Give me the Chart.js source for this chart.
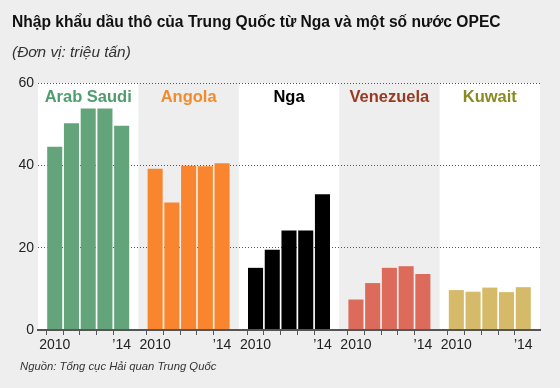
<!DOCTYPE html>
<html>
<head>
<meta charset="utf-8">
<script src="https://cdn.jsdelivr.net/npm/chart.js@4"></script>
<style>
    html, body { margin: 0; padding: 0; background: #eeeeee; }
    body { width: 560px; height: 388px; position: relative; overflow: hidden; font-family: "Liberation Sans", Arial, sans-serif; }
    #wrap { position: absolute; left: 0; top: 0; width: 560px; height: 388px; }
    .title { position: absolute; left: 12px; top: 13px; font-size: 15.6px; font-weight: bold; color: #111; white-space: nowrap; }
    .unit { position: absolute; left: 12px; top: 43px; font-size: 15.4px; font-style: italic; color: #333; white-space: nowrap; }
    .source { position: absolute; left: 20px; top: 360px; font-size: 11.3px; font-style: italic; color: #333; white-space: nowrap; }
</style>
</head>
<body>
<div id="wrap"><canvas id="chart"></canvas></div>
<div class="title">Nhập khẩu dầu thô của Trung Quốc từ Nga và một số nước OPEC</div>
<div class="unit">(Đơn vị: triệu tấn)</div>
<div class="source">Nguồn: Tổng cục Hải quan Trung Quốc</div>
<script>
// data (million tonnes)
const years = ['2010', '2011', '2012', '2013', '2014'];
const countries = ['Arab Saudi', 'Angola', 'Nga', 'Venezuela', 'Kuwait'];
const saudi = [44.5, 50.2, 53.8, 53.8, 49.6];
const angola = [39.2, 31.0, 39.9, 39.8, 40.5];
const russia = [15.1, 19.5, 24.2, 24.2, 33.0];
const venezuela = [7.4, 11.4, 15.1, 15.5, 13.6];
const kuwait = [9.7, 9.3, 10.3, 9.2, 10.4];
const yTicks = [0, 20, 40, 60];

const series = [saudi, angola, russia, venezuela, kuwait];
const barColors = ['#63a47b', '#f9862e', '#000000', '#dd6b5b', '#d5bb69'];
const labelColors = ['#4f9c6c', '#f28a2e', '#000000', '#983a22', '#8a8a22'];

// one spacer slot between groups so every country gets its own panel
const labels = [''];
countries.forEach(() => { years.forEach(y => labels.push(y)); labels.push(''); });

const datasets = series.map((vals, g) => {
    const data = labels.map(() => null);
    vals.forEach((v, j) => { data[g * 6 + j + 1] = v; });
    return {
        label: countries[g],
        data: data,
        backgroundColor: barColors[g],
        grouped: false,
        barPercentage: 0.9,
        categoryPercentage: 1
    };
});

const panels = {
    id: 'panels',
    beforeDraw(chart) {
        const { ctx, chartArea: a, scales: { x } } = chart;
        ctx.save();
        countries.forEach((c, g) => {
            if (g % 2) return;
            const x0 = x.getPixelForValue(g * 6), x1 = x.getPixelForValue(g * 6 + 6);
            ctx.fillStyle = '#ffffff';
            ctx.fillRect(x0, a.top, x1 - x0, a.bottom - a.top);
        });
        ctx.restore();
    },
    afterDatasetsDraw(chart) {
        const { ctx, chartArea: a, scales: { x } } = chart;
        ctx.save();
        ctx.font = 'bold 16.5px "Liberation Sans", Arial, sans-serif';
        ctx.textAlign = 'center';
        ctx.textBaseline = 'middle';
        countries.forEach((c, g) => {
            const x0 = x.getPixelForValue(g * 6), x1 = x.getPixelForValue(g * 6 + 6);
            ctx.fillStyle = labelColors[g];
            ctx.fillText(c, (x0 + x1) / 2, a.top + 14);
        });
        ctx.restore();
    }
};

new Chart(document.getElementById('chart'), {
    type: 'bar',
    data: { labels: labels, datasets: datasets },
    plugins: [panels],
    options: {
        responsive: true,
        maintainAspectRatio: false,
        animation: false,
        layout: { padding: { top: 83, right: 20, bottom: 28, left: 0 } },
        plugins: { legend: { display: false }, tooltip: { enabled: false } },
        scales: {
            x: {
                offset: false,
                afterFit(scale) { scale.height = 30; },
                border: { display: true, color: '#555555', width: 2, z: 1 },
                grid: {
                    drawOnChartArea: false,
                    drawTicks: true,
                    tickLength: 5,
                    color: c => labels[c.index] ? '#555555' : 'rgba(0,0,0,0)'
                },
                ticks: {
                    autoSkip: false,
                    maxRotation: 0,
                    padding: 2,
                    color: '#222',
                    font: { family: '"Liberation Sans", Arial, sans-serif', size: 14 },
                    callback(v) {
                        const l = labels[v];
                        if (l === years[0]) return l;
                        if (l === years[years.length - 1]) return '\u2019' + l.slice(2);
                        return '';
                    }
                }
            },
            y: {
                min: 0,
                max: 60,
                afterFit(scale) { scale.width = 38; },
                afterBuildTicks(scale) { scale.ticks = yTicks.map(v => ({ value: v })); },
                border: { display: false, dash: [1, 2] },
                grid: {
                    drawTicks: false,
                    color: c => c.tick.value === 0 ? 'rgba(0,0,0,0)' : '#555555',
                    lineWidth: 1
                },
                ticks: {
                    padding: 4,
                    color: '#222',
                    font: { family: '"Liberation Sans", Arial, sans-serif', size: 14 }
                }
            }
        }
    }
});
</script>
</body>
</html>
